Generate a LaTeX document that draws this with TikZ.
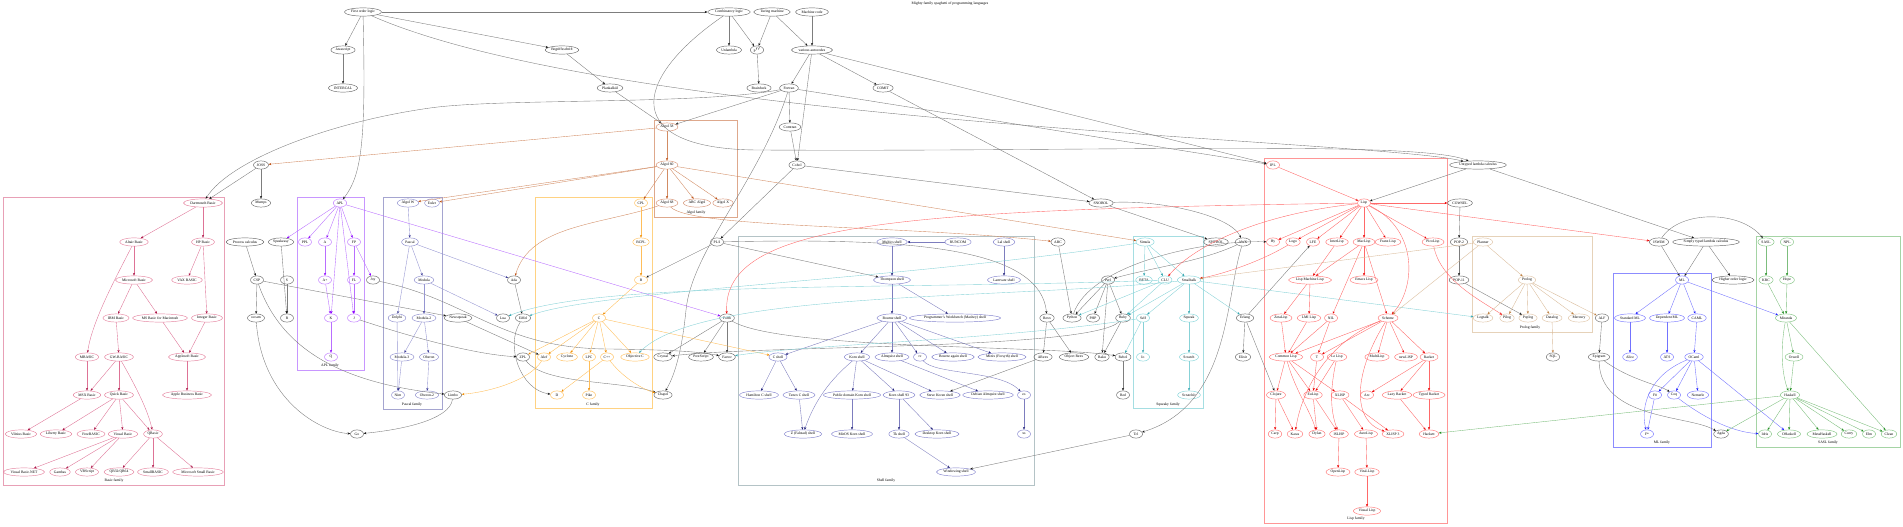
\documentclass[tikz,border=0pt]{standalone}
\usepackage{fontspec}
\setmainfont{Liberation Serif}
\usetikzlibrary{shapes.geometric,arrows.meta}
\newcommand\nf{\fontsize{3.7}{4.2}\selectfont}
\definecolor{grN}{RGB}{105,105,105}\definecolor{grE}{RGB}{125,125,125}\definecolor{grA}{RGB}{20,20,20}
\definecolor{basicN}{RGB}{228,130,158}\definecolor{basicE}{RGB}{222,115,150}\definecolor{basicA}{RGB}{170,20,70}\definecolor{basicB}{RGB}{232,160,182}
\definecolor{aplN}{RGB}{190,120,255}\definecolor{aplE}{RGB}{185,110,255}\definecolor{aplA}{RGB}{140,0,255}\definecolor{aplB}{RGB}{200,150,255}
\definecolor{pasN}{RGB}{140,140,205}\definecolor{pasE}{RGB}{150,150,210}\definecolor{pasA}{RGB}{60,60,150}\definecolor{pasB}{RGB}{165,165,208}
\definecolor{algN}{RGB}{212,145,115}\definecolor{algE}{RGB}{210,140,100}\definecolor{algA}{RGB}{190,80,20}\definecolor{algB}{RGB}{222,168,140}
\definecolor{cN}{RGB}{255,190,90}\definecolor{cE}{RGB}{255,190,90}\definecolor{cA}{RGB}{240,140,0}\definecolor{cB}{RGB}{255,210,130}
\definecolor{shN}{RGB}{130,130,205}\definecolor{shE}{RGB}{125,125,190}\definecolor{shA}{RGB}{30,30,120}\definecolor{shB}{RGB}{180,195,198}
\definecolor{stN}{RGB}{130,212,217}\definecolor{stE}{RGB}{135,210,215}\definecolor{stA}{RGB}{50,165,175}\definecolor{stB}{RGB}{165,222,226}
\definecolor{lispN}{RGB}{255,120,120}\definecolor{lispE}{RGB}{255,105,105}\definecolor{lispA}{RGB}{235,0,0}\definecolor{lispB}{RGB}{255,150,150}
\definecolor{proN}{RGB}{222,195,165}\definecolor{proE}{RGB}{218,188,155}\definecolor{proA}{RGB}{190,130,70}\definecolor{proB}{RGB}{230,210,185}
\definecolor{mlN}{RGB}{120,120,255}\definecolor{mlE}{RGB}{115,115,255}\definecolor{mlA}{RGB}{30,30,255}\definecolor{mlB}{RGB}{140,140,255}
\definecolor{saslN}{RGB}{130,195,130}\definecolor{saslE}{RGB}{125,190,125}\definecolor{saslA}{RGB}{30,140,30}\definecolor{saslB}{RGB}{165,212,165}
\begin{document}
\begin{tikzpicture}[x=1pt,y=-1pt,
  nod/.style={ellipse, draw=#1N, line width=0.45pt, inner xsep=1.2pt, inner ysep=0.4pt, minimum height=8.2pt, minimum width=13pt, font=\nf, text=black},
  edg/.style={draw=#1E, line width=0.38pt, -{Stealth[length=2.7pt,width=2.2pt,color=#1A]}},
  clus/.style={draw=#1B, line width=0.8pt},
  clab/.style={font=\nf, text=black, inner sep=0pt}]
\useasboundingbox (0,0) rectangle (1903,527);
\node[clab] (title) at (950,4) {Mighty family spaghetti of programming languages};
% clusters
\draw[clus=basic] (3,197) rectangle (224,485); \node[clab] (lbasic) at (114,481) {Basic family};
\draw[clus=apl] (297,197) rectangle (364,370); \node[clab] (lapl) at (330,366) {APL family};
\draw[clus=pas] (383,197) rectangle (442,409); \node[clab] (lpas) at (412,405) {Pascal family};
\draw[clus=alg] (654,120) rectangle (737,217); \node[clab] (lalg) at (696,213) {Algol family};
\draw[clus=c] (535,197) rectangle (652,408); \node[clab] (lc) at (593,405) {C family};
\draw[clus=sh] (738,236) rectangle (1034,485); \node[clab] (lsh) at (886,481) {Shell family};
\draw[clus=st] (1133,236) rectangle (1203,408); \node[clab] (lst) at (1168,405) {Squeaky family};
\draw[clus=lisp] (1264,158) rectangle (1447,523); \node[clab] (llisp) at (1356,519) {Lisp family};
\draw[clus=pro] (1472,236) rectangle (1592,332); \node[clab] (lpro) at (1530,328) {Prolog family};
\draw[clus=ml] (1613,273) rectangle (1711,447); \node[clab] (lml) at (1662,443) {ML family};
\draw[clus=sasl] (1756,236) rectangle (1900,447); \node[clab] (lsasl) at (1828,443) {SASL family};
% row 12
\node[nod=gr] (folog) at (363,12) {First order logic};
\node[nod=gr] (comblog) at (729,12) {Combinatory logic};
\node[nod=gr] (turing) at (772,12) {Turing machine};
\node[nod=gr] (machine) at (812,12) {Machine code};
% row 50
\node[nod=gr] (analytical) at (343,50) {Javascript};
\node[nod=gr] (begriff) at (562,50) {Begriffsschrift};
\node[nod=gr] (unlambda) at (729,50) {Unlambda};
\node[nod=gr] (pdp) at (757,50) {P$''$};
\node[nod=gr] (autocodes) at (812,50) {various autocodes};
% row 88
\node[nod=gr] (intercal) at (343,88) {INTERCAL};
\node[nod=gr] (plankalkul) at (610,88) {Plankalkül};
\node[nod=gr] (brainfuck) at (759,88) {Brainfuck};
\node[nod=gr] (fortran) at (789,88) {Fortran};
\node[nod=gr] (comit) at (883,88) {COMIT};
% row 127
\node[nod=alg] (algol58) at (667,127) {Algol 58};
\node[nod=gr] (comtran) at (790,127) {Comtran};
% row 165
\node[nod=gr] (joss) at (261,165) {JOSS};
\node[nod=alg] (algol60) at (667,165) {Algol 60};
\node[nod=gr] (cobol) at (797,165) {Cobol};
\node[nod=lisp] (ipl) at (1273,165) {IPL};
\node[nod=gr] (ulc) at (1478,165) {Untyped lambda calculus};
% row 203
\node[nod=basic] (dartmouth) at (203,203) {Dartmouth Basic};
\node[nod=gr] (mumps) at (261,203) {Mumps};
\node[nod=apl] (apl) at (340,203) {APL};
\node[nod=pas] (algolw) at (408,203) {Algol W};
\node[nod=pas] (euler) at (432,203) {Euler};
\node[nod=c] (cpl) at (641,203) {CPL};
\node[nod=alg] (algol68) at (667,203) {Algol 68};
\node[nod=alg] (abcalgol) at (697,203) {ABC Algol};
\node[nod=alg] (algolx) at (723,203) {Algol X};
\node[nod=gr] (snobol) at (1101,203) {SNOBOL};
\node[nod=lisp] (lisp) at (1364,203) {Lisp};
\node[nod=gr] (cowsel) at (1460,203) {COWSEL};
% row 242
\node[nod=basic] (altair) at (134,242) {Altair Basic};
\node[nod=basic] (hpbasic) at (203,242) {HP Basic};
\node[nod=gr] (process) at (245,242) {Process calculus};
\node[nod=gr] (speakeasy) at (281,242) {Speakeasy};
\node[nod=apl] (ppl) at (305,242) {PPL};
\node[nod=apl] (a) at (325,242) {A};
\node[nod=apl] (fp) at (354,242) {FP};
\node[nod=pas] (pascal) at (410,242) {Pascal};
\node[nod=c] (bcpl) at (641,242) {BCPL};
\node[nod=gr] (pli) at (717,242) {PL/I};
\node[nod=sh] (multics) at (892,242) {Multics shell};
\node[nod=sh] (runcom) at (958,242) {RUNCOM};
\node[nod=sh] (lalshell) at (1004,242) {Lal shell};
\node[nod=gr] (abc) at (1058,242) {ABC};
\node[nod=st] (simula) at (1145,242) {Simula};
\node[nod=gr] (spitbol) at (1216,242) {SPITBOL};
\node[nod=gr] (awk) at (1243,242) {AWK};
\node[nod=lisp] (hy) at (1273,242) {Hy};
\node[nod=lisp] (logo) at (1293,242) {Logo};
\node[nod=lisp] (lfe) at (1313,242) {LFE};
\node[nod=lisp] (interlisp) at (1337,242) {InterLisp};
\node[nod=lisp] (maclisp) at (1364,242) {MacLisp};
\node[nod=lisp] (franz) at (1388,242) {Franz Lisp};
\node[nod=lisp] (picolisp) at (1433,242) {PicoLisp};
\node[nod=gr] (pop2) at (1459,242) {POP-2};
\node[nod=pro] (planner) at (1483,242) {Planner};
\node[nod=gr] (iswim) at (1659,242) {ISWIM};
\node[nod=gr] (stlc) at (1706,242) {Simply typed lambda calculus};
\node[nod=sasl] (sasl) at (1766,242) {SASL};
\node[nod=sasl] (npl) at (1787,242) {NPL};
% row 280
\node[nod=basic] (msbasic) at (134,280) {Microsoft Basic};
\node[nod=basic] (vax) at (187,280) {VAX BASIC};
\node[nod=gr] (csp) at (257,280) {CSP};
\node[nod=gr] (s) at (287,280) {S};
\node[nod=apl] (aplus) at (325,280) {A+};
\node[nod=apl] (fl) at (354,280) {FL};
\node[nod=gr] (joy) at (373,280) {Joy};
\node[nod=pas] (modula) at (424,280) {Modula};
\node[nod=gr] (ada) at (514,280) {Ada};
\node[nod=c] (b) at (641,280) {B};
\node[nod=sh] (thompson) at (892,280) {Thompson shell};
\node[nod=sh] (lamvare) at (1004,280) {Lamvare shell};
\node[nod=gr] (perl) at (1108,280) {Perl};
\node[nod=st] (beta) at (1144,280) {BETA};
\node[nod=st] (clu) at (1165,280) {CLU};
\node[nod=st] (smalltalk) at (1189,280) {Smalltalk};
\node[nod=lisp] (lml) at (1310,280) {Lisp Machine Lisp};
\node[nod=lisp] (emacs) at (1364,280) {Emacs Lisp};
\node[nod=gr] (pop11) at (1459,280) {POP-11};
\node[nod=pro] (prolog) at (1527,280) {Prolog};
\node[nod=ml] (ml) at (1682,280) {ML};
\node[nod=gr] (hol) at (1733,280) {Higher order logic};
\node[nod=sasl] (krc) at (1766,280) {KRC};
\node[nod=sasl] (hope) at (1787,280) {Hope};
% row 318
\node[nod=basic] (ibm) at (116,318) {IBM Basic};
\node[nod=basic] (msmac) at (160,318) {MS Basic for Macintosh};
\node[nod=basic] (integer) at (207,318) {Integer Basic};
\node[nod=gr] (occam) at (256,318) {occam};
\node[nod=gr] (r) at (287,318) {R};
\node[nod=apl] (k) at (331,318) {K};
\node[nod=apl] (j) at (354,318) {J};
\node[nod=pas] (delphi) at (397,318) {Delphi};
\node[nod=pas] (modula2) at (424,318) {Modula-2};
\node[nod=gr] (newsqueak) at (458,318) {Newsqueak};
\node[nod=gr] (lua) at (503,318) {Lua};
\node[nod=gr] (eiffel) at (523,318) {Eiffel};
\node[nod=c] (c) at (599,318) {C};
\node[nod=gr] (forth) at (727,318) {Forth};
\node[nod=sh] (bourne) at (892,318) {Bourne shell};
\node[nod=sh] (pwb) at (955,318) {Programmer's Workbench (Mashey) shell};
\node[nod=gr] (rexx) at (1047,318) {Rexx};
\node[nod=gr] (python) at (1072,318) {Python};
\node[nod=gr] (php) at (1093,318) {PHP};
\node[nod=gr] (ruby) at (1123,318) {Ruby};
\node[nod=st] (self) at (1143,318) {Self};
\node[nod=st] (squeak) at (1189,318) {Squeak};
\node[nod=gr] (erlang) at (1245,318) {Erlang};
\node[nod=lisp] (zetalisp) at (1281,318) {ZetaLisp};
\node[nod=lisp] (lmilisp) at (1309,318) {LMI Lisp};
\node[nod=lisp] (nil) at (1331,318) {NIL};
\node[nod=lisp] (scheme) at (1388,318) {Scheme};
\node[nod=pro] (logtalk) at (1483,318) {Logtalk};
\node[nod=pro] (pilog) at (1507,318) {Pilog};
\node[nod=pro] (poplog) at (1528,318) {Poplog};
\node[nod=pro] (datalog) at (1552,318) {Datalog};
\node[nod=pro] (mercury) at (1579,318) {Mercury};
\node[nod=gr] (alf) at (1602,318) {ALF};
\node[nod=ml] (sml) at (1630,318) {Standard ML};
\node[nod=ml] (dml) at (1667,318) {Dependent ML};
\node[nod=ml] (caml) at (1697,318) {CAML};
\node[nod=sasl] (miranda) at (1786,318) {Miranda};
% row 357
\node[nod=basic] (mbasic) at (87,357) {MBASIC};
\node[nod=basic] (gwbasic) at (119,357) {GW-BASIC};
\node[nod=basic] (applesoft) at (187,357) {Applesoft Basic};
\node[nod=apl] (q) at (331,357) {Q};
\node[nod=pas] (modula3) at (402,357) {Modula-3};
\node[nod=pas] (oberon) at (429,357) {Oberon};
\node[nod=gr] (zpl) at (523,357) {ZPL};
\node[nod=c] (alef) at (544,357) {Alef};
\node[nod=c] (cyclone) at (567,357) {Cyclone};
\node[nod=c] (lpc) at (589,357) {LPC};
\node[nod=c] (cpp) at (607,357) {C++};
\node[nod=c] (objc) at (635,357) {Objective C};
\node[nod=gr] (crystal) at (663,357) {Crystal};
\node[nod=gr] (postscript) at (701,357) {PostScript};
\node[nod=gr] (factor) at (727,357) {Factor};
\node[nod=sh] (cshell) at (778,357) {C shell};
\node[nod=sh] (korn) at (857,357) {Korn shell};
\node[nod=sh] (almquist) at (892,357) {Almquist shell};
\node[nod=sh] (rc) at (920,357) {rc};
\node[nod=sh] (bash) at (953,357) {Bourne again shell};
\node[nod=sh] (minix) at (1002,357) {Minix (Forsyth) shell};
\node[nod=gr] (arexx) at (1043,357) {ARexx};
\node[nod=gr] (objrexx) at (1074,357) {Object Rexx};
\node[nod=gr] (raku) at (1102,357) {Raku};
\node[nod=gr] (rebol) at (1123,357) {Rebol};
\node[nod=st] (io) at (1143,357) {Io};
\node[nod=st] (scratch) at (1189,357) {Scratch};
\node[nod=gr] (elixir) at (1243,357) {Elixir};
\node[nod=lisp] (commonlisp) at (1286,357) {Common Lisp};
\node[nod=lisp] (t) at (1317,357) {T};
\node[nod=lisp] (lelisp) at (1337,357) {Le Lisp};
\node[nod=lisp] (multilisp) at (1377,357) {MultiLisp};
\node[nod=lisp] (newlisp) at (1406,357) {newLISP};
\node[nod=lisp] (racket) at (1429,357) {Racket};
\node[nod=gr] (sql) at (1553,357) {SQL};
\node[nod=gr] (epigram) at (1599,357) {Epigram};
\node[nod=ml] (alice) at (1630,357) {Alice};
\node[nod=ml] (ats) at (1667,357) {ATS};
\node[nod=ml] (ocaml) at (1694,357) {OCaml};
\node[nod=sasl] (orwell) at (1794,357) {Orwell};
% row 395
\node[nod=basic] (msx) at (87,395) {MSX Basic};
\node[nod=basic] (quickbasic) at (119,395) {Quick Basic};
\node[nod=basic] (applebus) at (187,395) {Apple Business Basic};
\node[nod=pas] (nim) at (398,395) {Nim};
\node[nod=pas] (oberon2) at (427,395) {Oberon-2};
\node[nod=gr] (limbo) at (453,395) {Limbo};
\node[nod=c] (d) at (557,395) {D};
\node[nod=c] (pike) at (589,395) {Pike};
\node[nod=gr] (chapel) at (663,395) {Chapel};
\node[nod=sh] (hamilton) at (759,395) {Hamilton C shell};
\node[nod=sh] (tcsh) at (799,395) {Tenex C shell};
\node[nod=sh] (pdksh) at (852,395) {Public domain Korn shell};
\node[nod=sh] (ksh93) at (899,395) {Korn shell 93};
\node[nod=sh] (skoren) at (940,395) {Steve Koren shell};
\node[nod=sh] (dash) at (988,395) {Debian Almquist shell};
\node[nod=sh] (es) at (1024,395) {es};
\node[nod=gr] (red) at (1123,395) {Red};
\node[nod=st] (scratchx) at (1189,395) {ScratchJr};
\node[nod=lisp] (clojure) at (1276,395) {Clojure};
\node[nod=lisp] (eulisp) at (1313,395) {EuLisp};
\node[nod=lisp] (xlisp) at (1340,395) {XLISP};
\node[nod=lisp] (arc) at (1367,395) {Arc};
\node[nod=lisp] (lazyracket) at (1397,395) {Lazy Racket};
\node[nod=lisp] (typedracket) at (1429,395) {Typed Racket};
\node[nod=ml] (fsharp) at (1655,395) {F\#};
\node[nod=ml] (coq) at (1674,395) {Coq};
\node[nod=ml] (nemerle) at (1698,395) {Nemerle};
\node[nod=sasl] (haskell) at (1790,395) {Haskell};
% row 434
\node[nod=basic] (vilnius) at (21,434) {Vilnius Basic};
\node[nod=basic] (liberty) at (56,434) {Liberty Basic};
\node[nod=basic] (freebasic) at (91,434) {FreeBASIC};
\node[nod=basic] (visualbasic) at (123,434) {Visual Basic};
\node[nod=basic] (qbasic) at (153,434) {QBasic};
\node[nod=gr] (go) at (357,434) {Go};
\node[nod=sh] (zsh) at (803,434) {Z (Falstad) shell};
\node[nod=sh] (mksh) at (852,434) {MirOS Korn shell};
\node[nod=sh] (tksh) at (899,434) {Tk shell};
\node[nod=sh] (dtksh) at (937,434) {Desktop Korn shell};
\node[nod=sh] (xs) at (1024,434) {xs};
\node[nod=gr] (tcl) at (1136,434) {Tcl};
\node[nod=lisp] (carp) at (1275,434) {Carp};
\node[nod=lisp] (kawa) at (1295,434) {Kawa};
\node[nod=lisp] (dylan) at (1317,434) {Dylan};
\node[nod=lisp] (islisp) at (1339,434) {ISLISP};
\node[nod=lisp] (autolisp) at (1366,434) {AutoLisp};
\node[nod=lisp] (xlisp3) at (1393,434) {XLISP 3};
\node[nod=lisp] (hackett) at (1429,434) {Hackett};
\node[nod=ml] (fstar) at (1647,434) {F*};
\node[nod=gr] (agda) at (1721,434) {Agda};
\node[nod=sasl] (idris) at (1765,434) {Idris};
\node[nod=sasl] (ohaskell) at (1789,434) {OHaskell};
\node[nod=sasl] (metahaskell) at (1822,434) {MetaHaskell};
\node[nod=sasl] (curry) at (1849,434) {Curry};
\node[nod=sasl] (elm) at (1869,434) {Elm};
\node[nod=sasl] (clean) at (1889,434) {Clean};
% row 472
\node[nod=basic] (vbnet) at (24,472) {Visual Basic.NET};
\node[nod=basic] (gambas) at (60,472) {Gambas};
\node[nod=basic] (vbscript) at (87,472) {VBScript};
\node[nod=basic] (qb64) at (119,472) {QB32/QB64};
\node[nod=basic] (smallbasic) at (153,472) {SmallBASIC};
\node[nod=basic] (mssmallbasic) at (198,472) {Microsoft Small Basic};
\node[nod=sh] (windowing) at (956,472) {Windowing shell};
\node[nod=lisp] (openlisp) at (1338,472) {OpenLisp};
\node[nod=lisp] (vitallisp) at (1367,472) {Vital-Lisp};
\node[nod=lisp] (visuallisp) at (1367,511) {Visual Lisp};
% ---------- edges: gray
\draw[edg=gr] (folog) -- (comblog);
\draw[edg=gr] (folog) -- (analytical);
\draw[edg=gr] (analytical) -- (intercal);
\draw[edg=gr] (folog) -- (begriff);
\draw[edg=gr] (begriff) -- (plankalkul);
\draw[edg=gr] (plankalkul) -- (algol58);
\draw[edg=gr] (folog) .. controls (366,140) and (362,175) .. (apl);
\draw[edg=gr] (folog) .. controls (620,125) and (1380,140) .. (ulc);
\draw[edg=gr] (comblog) .. controls (630,80) and (620,150) .. (760,150) .. controls (1100,152) and (1420,140) .. (ulc);
\draw[edg=gr] (comblog) -- (unlambda);
\draw[edg=gr] (comblog) -- (pdp);
\draw[edg=gr] (turing) -- (pdp);
\draw[edg=gr] (turing) -- (autocodes);
\draw[edg=gr] (machine) -- (autocodes);
\draw[edg=gr] (pdp) -- (brainfuck);
\draw[edg=gr] (autocodes) -- (fortran);
\draw[edg=gr] (autocodes) -- (cobol);
\draw[edg=gr] (autocodes) -- (comit);
\draw[edg=gr] (autocodes) -- (ipl);
\draw[edg=gr] (fortran) -- (ipl);
\draw[edg=gr] (fortran) -- (algol58);
\draw[edg=gr] (fortran) -- (comtran);
\draw[edg=gr] (comtran) -- (cobol);
\draw[edg=gr] (fortran) .. controls (700,105) and (500,98) .. (430,108) .. controls (330,122) and (230,160) .. (dartmouth);
\draw[edg=gr] (fortran) .. controls (760,180) and (692,250) .. (686,310) .. controls (682,350) and (675,375) .. (chapel);
\draw[edg=gr] (cobol) -- (pli);
\draw[edg=gr] (cobol) -- (snobol);
\draw[edg=gr] (comit) -- (snobol);
\draw[edg=gr] (pli) -- (b);
\draw[edg=gr] (pli) -- (thompson);
\draw[edg=gr] (pli) .. controls (900,238) and (1040,245) .. (rexx);
\draw[edg=gr] (joss) -- (dartmouth);
\draw[edg=gr] (joss) -- (mumps);
\draw[edg=gr] (process) -- (csp);
\draw[edg=gr] (speakeasy) -- (r);
\draw[edg=gr] (s) -- (r);
\draw[edg=gr] (csp) -- (occam);
\draw[edg=gr] (csp) -- (newsqueak);
\draw[edg=gr] (csp) .. controls (285,360) and (360,385) .. (limbo);
\draw[edg=gr] (occam) .. controls (262,400) and (320,432) .. (go);
\draw[edg=gr] (limbo) .. controls (450,420) and (400,430) .. (go);
\draw[edg=gr] (newsqueak) -- (alef);
\draw[edg=gr] (joy) .. controls (470,300) and (500,349) .. (610,349) .. controls (680,350) and (700,352) .. (factor);
\draw[edg=gr] (ada) -- (eiffel);
\draw[edg=gr] (eiffel) .. controls (505,345) and (520,390) .. (d);
\draw[edg=gr] (zpl) .. controls (545,385) and (620,380) .. (chapel);
\draw[edg=gr] (j) .. controls (420,340) and (480,355) .. (zpl);
\draw[edg=gr] (forth) -- (postscript);
\draw[edg=gr] (forth) -- (factor);
\draw[edg=gr] (forth) -- (crystal);
\draw[edg=gr] (forth) .. controls (780,350) and (1050,345) .. (rebol);
\draw[edg=gr] (ruby) .. controls (1090,350) and (760,345) .. (crystal);
\draw[edg=gr] (awk) .. controls (1200,262) and (1150,268) .. (perl);
\draw[edg=gr] (awk) .. controls (1225,300) and (1230,405) .. (tcl);
\draw[edg=gr] (snobol) -- (spitbol);
\draw[edg=gr] (snobol) .. controls (1160,200) and (1230,215) .. (awk);
\draw[edg=gr] (perl) -- (python);
\draw[edg=gr] (perl) -- (php);
\draw[edg=gr] (perl) -- (ruby);
\draw[edg=gr] (perl) -- (raku);
\draw[edg=gr] (abc) -- (python);
\draw[edg=gr] (rexx) -- (arexx);
\draw[edg=gr] (rexx) -- (objrexx);
\draw[edg=gr] (arexx) -- (skoren);
\draw[edg=gr] (python) .. controls (1090,265) and (1200,240) .. (hy);
\draw[edg=gr] (ruby) -- (raku);
\draw[edg=gr] (rebol) -- (red);
\draw[edg=gr] (tcl) -- (windowing);
\draw[edg=gr] (erlang) -- (elixir);
\draw[edg=gr] (erlang) -- (clojure);
\draw[edg=gr] (erlang) -- (lfe);
\draw[edg=gr] (ulc) -- (lisp);
\draw[edg=gr] (ulc) -- (stlc);
\draw[edg=gr] (cowsel) -- (pop2);
\draw[edg=gr] (pop2) -- (pop11);
\draw[edg=gr] (pop11) -- (poplog);
\draw[edg=gr] (iswim) .. controls (1680,210) and (1740,210) .. (sasl);
\draw[edg=gr] (iswim) -- (ml);
\draw[edg=gr] (stlc) -- (ml);
\draw[edg=gr] (stlc) -- (hol);
\draw[edg=gr] (alf) -- (epigram);
\draw[edg=gr] (epigram) .. controls (1630,380) and (1660,385) .. (coq);
\draw[edg=gr] (epigram) .. controls (1600,420) and (1690,415) .. (agda);
% algol
\draw[edg=alg] (algol58) -- (algol60);
\draw[edg=alg] (algol58) -- (joss);
\draw[edg=alg] (algol60) -- (cpl);
\draw[edg=alg] (algol60) -- (algol68);
\draw[edg=alg] (algol60) -- (abcalgol);
\draw[edg=alg] (algol60) -- (algolx);
\draw[edg=alg] (algol60) -- (algolw);
\draw[edg=alg] (algol60) -- (euler);
\draw[edg=alg] (algol60) -- (simula);
\draw[edg=alg] (algol68) .. controls (690,228) and (900,225) .. (abc);
\draw[edg=alg] (algol68) .. controls (600,225) and (530,225) .. (ada);
% apl
\draw[edg=apl] (apl) -- (speakeasy);
\draw[edg=apl] (apl) -- (ppl);
\draw[edg=apl] (apl) -- (a);
\draw[edg=apl] (apl) -- (fp);
\draw[edg=apl] (apl) -- (k);
\draw[edg=apl] (apl) -- (j);
\draw[edg=apl] (apl) -- (forth);
\draw[edg=apl] (a) -- (aplus);
\draw[edg=apl] (aplus) -- (k);
\draw[edg=apl] (fp) -- (fl);
\draw[edg=apl] (fp) -- (joy);
\draw[edg=apl] (fl) -- (j);
\draw[edg=apl] (k) -- (q);
% pascal
\draw[edg=pas] (algolw) -- (pascal);
\draw[edg=pas] (pascal) -- (modula);
\draw[edg=pas] (pascal) -- (delphi);
\draw[edg=pas] (pascal) -- (ada);
\draw[edg=pas] (modula) -- (modula2);
\draw[edg=pas] (modula) -- (lua);
\draw[edg=pas] (modula2) -- (modula3);
\draw[edg=pas] (modula2) -- (oberon);
\draw[edg=pas] (modula3) -- (nim);
\draw[edg=pas] (delphi) -- (nim);
\draw[edg=pas] (oberon) -- (oberon2);
% C
\draw[edg=c] (cpl) -- (bcpl);
\draw[edg=c] (bcpl) -- (b);
\draw[edg=c] (b) -- (c);
\draw[edg=c] (c) -- (zpl);
\draw[edg=c] (c) -- (alef);
\draw[edg=c] (c) -- (cyclone);
\draw[edg=c] (c) -- (lpc);
\draw[edg=c] (c) -- (cpp);
\draw[edg=c] (c) -- (objc);
\draw[edg=c] (c) -- (cshell);
\draw[edg=c] (cpp) -- (d);
\draw[edg=c] (cpp) .. controls (625,380) and (645,390) .. (chapel);
\draw[edg=c] (lpc) -- (pike);
\draw[edg=c] (alef) .. controls (530,380) and (490,392) .. (limbo);
% shell
\draw[edg=sh] (runcom) -- (multics);
\draw[edg=sh] (multics) -- (thompson);
\draw[edg=sh] (thompson) -- (bourne);
\draw[edg=sh] (thompson) -- (pwb);
\draw[edg=sh] (bourne) -- (cshell);
\draw[edg=sh] (bourne) -- (korn);
\draw[edg=sh] (bourne) -- (almquist);
\draw[edg=sh] (bourne) -- (rc);
\draw[edg=sh] (bourne) -- (bash);
\draw[edg=sh] (bourne) -- (minix);
\draw[edg=sh] (cshell) -- (hamilton);
\draw[edg=sh] (cshell) -- (tcsh);
\draw[edg=sh] (tcsh) -- (zsh);
\draw[edg=sh] (korn) .. controls (830,380) and (815,400) .. (zsh);
\draw[edg=sh] (korn) -- (pdksh);
\draw[edg=sh] (korn) -- (ksh93);
\draw[edg=sh] (korn) -- (skoren);
\draw[edg=sh] (pdksh) -- (mksh);
\draw[edg=sh] (ksh93) -- (tksh);
\draw[edg=sh] (ksh93) -- (dtksh);
\draw[edg=sh] (tksh) -- (windowing);
\draw[edg=sh] (almquist) -- (dash);
\draw[edg=sh] (rc) .. controls (935,375) and (1000,370) .. (es);
\draw[edg=sh] (es) -- (xs);
\draw[edg=sh] (lalshell) -- (lamvare);
% squeaky
\draw[edg=st] (simula) -- (beta);
\draw[edg=st] (simula) -- (clu);
\draw[edg=st] (simula) -- (smalltalk);
\draw[edg=st] (simula) .. controls (900,280) and (600,290) .. (eiffel);
\draw[edg=st] (clu) .. controls (900,290) and (600,280) .. (lua);
\draw[edg=st] (clu) -- (ruby);
\draw[edg=st] (clu) -- (python);
\draw[edg=st] (smalltalk) -- (self);
\draw[edg=st] (smalltalk) -- (squeak);
\draw[edg=st] (smalltalk) -- (ruby);
\draw[edg=st] (smalltalk) .. controls (1000,300) and (700,290) .. (objc);
\draw[edg=st] (smalltalk) -- (erlang);
\draw[edg=st] (smalltalk) -- (logtalk);
\draw[edg=st] (self) -- (io);
\draw[edg=st] (self) -- (rebol);
\draw[edg=st] (self) .. controls (1000,340) and (800,345) .. (factor);
\draw[edg=st] (squeak) -- (scratch);
\draw[edg=st] (scratch) -- (scratchx);
% lisp
\draw[edg=lisp] (ipl) -- (lisp);
\draw[edg=lisp] (lisp) -- (hy);
\draw[edg=lisp] (lisp) -- (logo);
\draw[edg=lisp] (lisp) -- (lfe);
\draw[edg=lisp] (lisp) -- (interlisp);
\draw[edg=lisp] (lisp) -- (maclisp);
\draw[edg=lisp] (lisp) -- (franz);
\draw[edg=lisp] (lisp) -- (picolisp);
\draw[edg=lisp] (lisp) -- (cowsel);
\draw[edg=lisp] (lisp) -- (iswim);
\draw[edg=lisp] (lisp) .. controls (900,210) and (722,222) .. (forth);
\draw[edg=lisp] (lisp) .. controls (1250,215) and (1190,250) .. (clu);
\draw[edg=lisp] (lisp) .. controls (1420,230) and (1415,290) .. (scheme);
\draw[edg=lisp] (logo) .. controls (1260,262) and (1220,275) .. (smalltalk);
\draw[edg=lisp] (interlisp) -- (lml);
\draw[edg=lisp] (maclisp) -- (lml);
\draw[edg=lisp] (maclisp) -- (emacs);
\draw[edg=lisp] (maclisp) -- (nil);
\draw[edg=lisp] (maclisp) -- (scheme);
\draw[edg=lisp] (lml) -- (zetalisp);
\draw[edg=lisp] (lml) -- (lmilisp);
\draw[edg=lisp] (zetalisp) -- (commonlisp);
\draw[edg=lisp] (lmilisp) -- (commonlisp);
\draw[edg=lisp] (nil) -- (commonlisp);
\draw[edg=lisp] (nil) -- (t);
\draw[edg=lisp] (scheme) -- (commonlisp);
\draw[edg=lisp] (scheme) -- (t);
\draw[edg=lisp] (scheme) -- (multilisp);
\draw[edg=lisp] (scheme) -- (newlisp);
\draw[edg=lisp] (scheme) -- (racket);
\draw[edg=lisp] (scheme) .. controls (1320,345) and (1300,400) .. (kawa);
\draw[edg=lisp] (scheme) .. controls (1355,370) and (1350,420) .. (xlisp3);
\draw[edg=lisp] (commonlisp) -- (clojure);
\draw[edg=lisp] (commonlisp) -- (eulisp);
\draw[edg=lisp] (commonlisp) -- (xlisp);
\draw[edg=lisp] (commonlisp) .. controls (1295,390) and (1310,410) .. (dylan);
\draw[edg=lisp] (t) -- (eulisp);
\draw[edg=lisp] (lelisp) -- (eulisp);
\draw[edg=lisp] (lelisp) .. controls (1330,390) and (1330,410) .. (islisp);
\draw[edg=lisp] (eulisp) -- (dylan);
\draw[edg=lisp] (eulisp) -- (islisp);
\draw[edg=lisp] (clojure) -- (carp);
\draw[edg=lisp] (clojure) -- (kawa);
\draw[edg=lisp] (racket) -- (arc);
\draw[edg=lisp] (racket) -- (lazyracket);
\draw[edg=lisp] (racket) -- (typedracket);
\draw[edg=lisp] (xlisp) -- (autolisp);
\draw[edg=lisp] (xlisp) -- (xlisp3);
\draw[edg=lisp] (typedracket) -- (hackett);
\draw[edg=lisp] (lazyracket) -- (hackett);
\draw[edg=lisp] (islisp) -- (openlisp);
\draw[edg=lisp] (autolisp) -- (vitallisp);
\draw[edg=lisp] (vitallisp) -- (visuallisp);
\draw[edg=lisp] (picolisp) .. controls (1440,280) and (1480,300) .. (pilog);
% prolog
\draw[edg=pro] (planner) -- (prolog);
\draw[edg=pro] (planner) -- (scheme);
\draw[edg=pro] (planner) -- (smalltalk);
\draw[edg=pro] (prolog) -- (logtalk);
\draw[edg=pro] (prolog) -- (pilog);
\draw[edg=pro] (prolog) -- (poplog);
\draw[edg=pro] (prolog) -- (datalog);
\draw[edg=pro] (prolog) -- (mercury);
\draw[edg=pro] (prolog) -- (alf);
\draw[edg=pro] (datalog) -- (sql);
% ml
\draw[edg=ml] (ml) -- (sml);
\draw[edg=ml] (ml) -- (dml);
\draw[edg=ml] (ml) -- (caml);
\draw[edg=ml] (ml) -- (miranda);
\draw[edg=ml] (sml) -- (alice);
\draw[edg=ml] (dml) -- (ats);
\draw[edg=ml] (caml) -- (ocaml);
\draw[edg=ml] (ocaml) -- (fsharp);
\draw[edg=ml] (ocaml) -- (coq);
\draw[edg=ml] (ocaml) -- (nemerle);
\draw[edg=ml] (ocaml) .. controls (1650,375) and (1640,405) .. (fstar);
\draw[edg=ml] (ocaml) -- (ohaskell);
\draw[edg=ml] (fsharp) -- (fstar);
\draw[edg=ml] (coq) .. controls (1700,415) and (1730,432) .. (idris);
% sasl
\draw[edg=sasl] (sasl) -- (krc);
\draw[edg=sasl] (npl) -- (hope);
\draw[edg=sasl] (krc) -- (miranda);
\draw[edg=sasl] (hope) -- (miranda);
\draw[edg=sasl] (miranda) -- (orwell);
\draw[edg=sasl] (miranda) .. controls (1780,350) and (1782,375) .. (haskell);
\draw[edg=sasl] (orwell) -- (haskell);
\draw[edg=sasl] (miranda) -- (clean);
\draw[edg=sasl] (haskell) -- (agda);
\draw[edg=sasl] (haskell) -- (idris);
\draw[edg=sasl] (haskell) -- (ohaskell);
\draw[edg=sasl] (haskell) -- (metahaskell);
\draw[edg=sasl] (haskell) -- (curry);
\draw[edg=sasl] (haskell) -- (elm);
\draw[edg=sasl] (haskell) -- (clean);
\draw[edg=sasl] (haskell) -- (hackett);
% basic
\draw[edg=basic] (dartmouth) -- (altair);
\draw[edg=basic] (dartmouth) -- (hpbasic);
\draw[edg=basic] (altair) -- (msbasic);
\draw[edg=basic] (altair) .. controls (120,270) and (92,320) .. (mbasic);
\draw[edg=basic] (hpbasic) -- (vax);
\draw[edg=basic] (hpbasic) -- (integer);
\draw[edg=basic] (msbasic) -- (ibm);
\draw[edg=basic] (msbasic) -- (msmac);
\draw[edg=basic] (ibm) -- (gwbasic);
\draw[edg=basic] (msmac) -- (applesoft);
\draw[edg=basic] (integer) -- (applesoft);
\draw[edg=basic] (applesoft) -- (applebus);
\draw[edg=basic] (mbasic) -- (msx);
\draw[edg=basic] (gwbasic) -- (msx);
\draw[edg=basic] (gwbasic) -- (quickbasic);
\draw[edg=basic] (gwbasic) .. controls (135,385) and (148,410) .. (qbasic);
\draw[edg=basic] (msx) -- (vilnius);
\draw[edg=basic] (quickbasic) -- (liberty);
\draw[edg=basic] (quickbasic) -- (freebasic);
\draw[edg=basic] (quickbasic) -- (visualbasic);
\draw[edg=basic] (quickbasic) -- (qbasic);
\draw[edg=basic] (visualbasic) -- (vbnet);
\draw[edg=basic] (visualbasic) -- (gambas);
\draw[edg=basic] (visualbasic) -- (vbscript);
\draw[edg=basic] (qbasic) -- (qb64);
\draw[edg=basic] (qbasic) -- (smallbasic);
\draw[edg=basic] (qbasic) -- (mssmallbasic);
\end{tikzpicture}
\end{document}
